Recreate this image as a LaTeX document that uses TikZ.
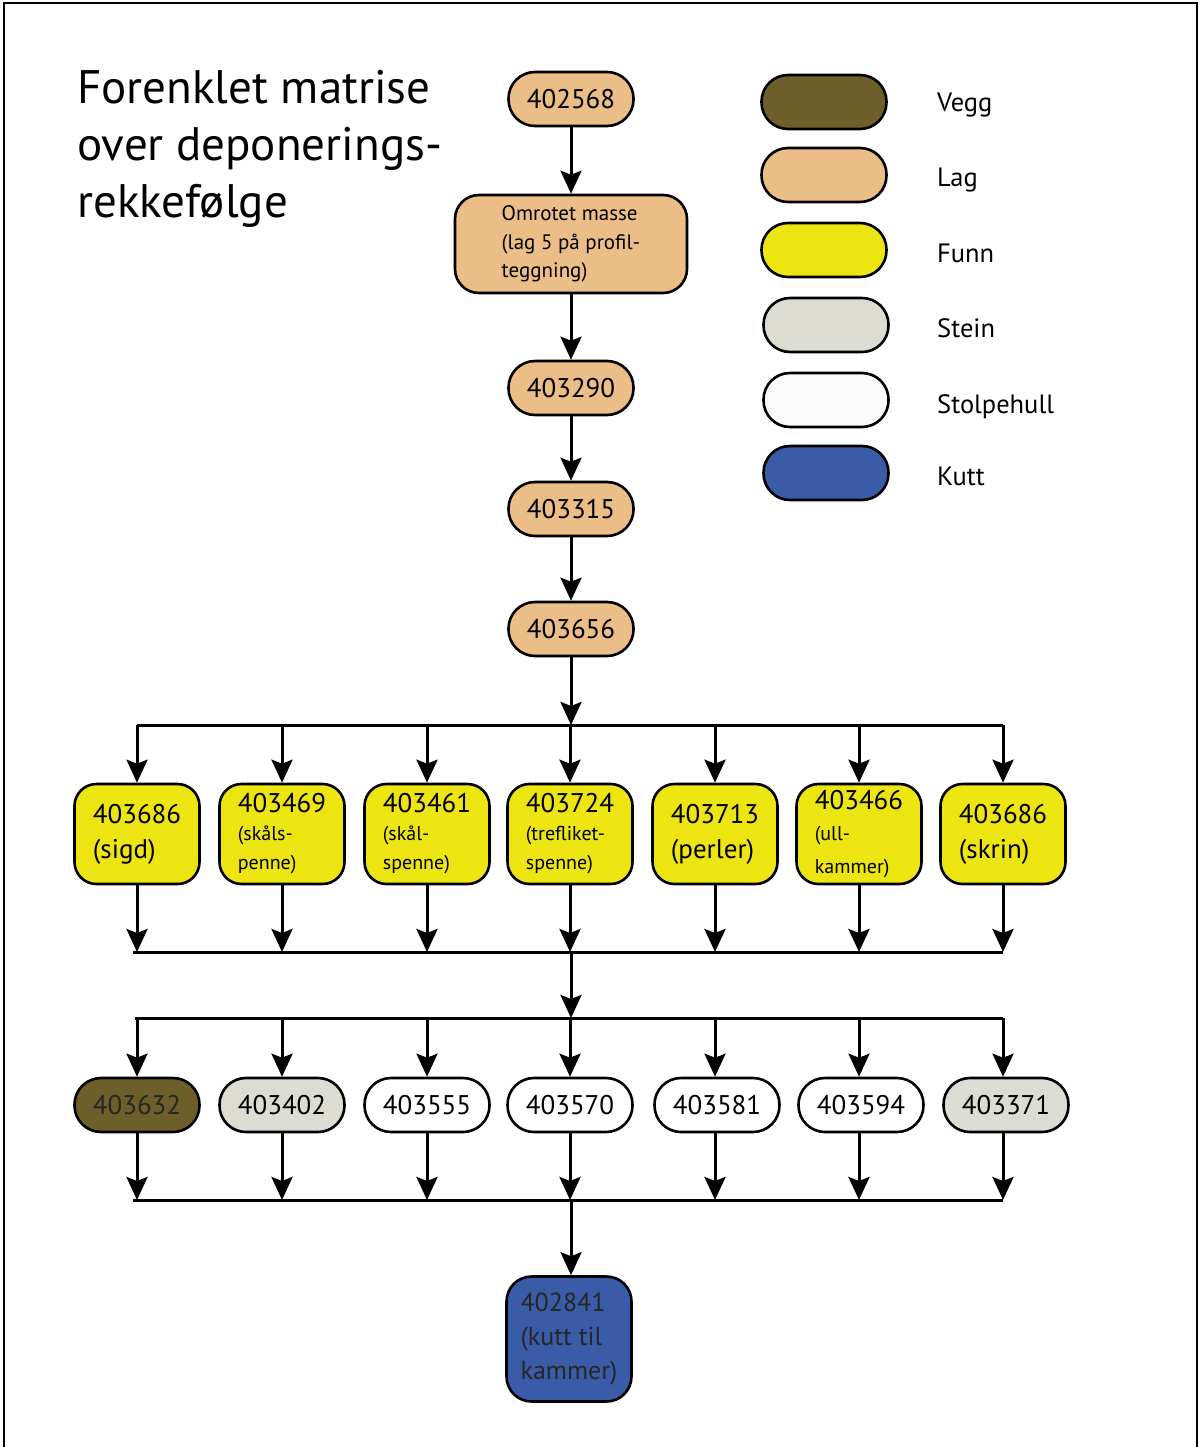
\documentclass[tikz,border=0pt]{standalone}
\usepackage{fontspec}
\setmainfont{PT Sans}
\usetikzlibrary{arrows.meta}
\definecolor{vegg}{HTML}{6E5F2A}
\definecolor{lag}{HTML}{EBBE88}
\definecolor{funn}{HTML}{EDE512}
\definecolor{stein}{HTML}{DCDCD3}
\definecolor{stolpe}{HTML}{FAFAFA}
\definecolor{kutt}{HTML}{3A5BA8}
\newcommand{\smalltxt}[1]{{\fontsize{20}{27}\selectfont #1}}
\begin{document}
\begin{tikzpicture}[x=1pt,y=-1pt,
  arr/.style={line width=3pt,-{Stealth[length=23pt,width=21pt,inset=4pt]}},
  busline/.style={line width=3pt},
  pill/.style={draw,line width=2.6pt,minimum width=125pt,minimum height=54pt,rounded corners=26.5pt,inner sep=0pt,font=\fontsize{27}{30}\selectfont},
  fbox/.style={draw,line width=2.6pt,fill=funn,minimum width=125pt,minimum height=100pt,rounded corners=22pt,inner sep=0pt,align=left,font=\fontsize{27}{35}\selectfont},
  leg/.style={anchor=base west,inner sep=0pt,font=\fontsize{26.5}{30}\selectfont}
]
\useasboundingbox (0,0) rectangle (1201,1447);
\draw[line width=2pt] (4,1447) -- (4,3) -- (1197,3) -- (1197,1447);

% title
\node[anchor=north west,inner sep=0pt,align=left,font=\fontsize{47}{57}\selectfont] (title) at (77,70)
  {Forenklet matrise\\over deponerings-\\rekkefølge};

% top chain
\node[pill,fill=lag] (a) at (571,99) {402568};
\node[draw,line width=2.6pt,fill=lag,minimum width=232pt,minimum height=98pt,rounded corners=24pt,inner sep=0pt,align=left,font=\fontsize{21}{28.5}\selectfont] (b) at (571,244) {Omrotet masse\\(lag 5 på profil-\\teggning)};
\node[pill,fill=lag] (c) at (571,388) {403290};
\node[pill,fill=lag] (d) at (571,509) {403315};
\node[pill,fill=lag] (e) at (571,629) {403656};
\draw[arr] (a) -- (b);
\draw[arr] (b) -- (c);
\draw[arr] (c) -- (d);
\draw[arr] (d) -- (e);

% bus coordinates
\coordinate (bus1) at (571,725);
\coordinate (bus2) at (571,952);
\coordinate (bus3) at (571,1018);
\coordinate (bus4) at (571,1200);

% row of finds
\node[fbox] (f1) at (137,834) {403686\\(sigd)};
\node[fbox] (f2) at (282,834) {403469\\[-7pt]\smalltxt{(skåls-}\\[-6pt]\smalltxt{penne)}};
\node[fbox] (f3) at (427,834) {403461\\[-7pt]\smalltxt{(skål-}\\[-6pt]\smalltxt{spenne)}};
\node[fbox] (f4) at (570,834) {403724\\[-7pt]\smalltxt{(trefliket-}\\[-6pt]\smalltxt{spenne)}};
\node[fbox] (f5) at (715,834) {403713\\(perler)};
\node[fbox] (f6) at (859,834) {403466\\[-4pt]\smalltxt{(ull-}\\[-2pt]\smalltxt{kammer)}};
\node[fbox] (f7) at (1003,834) {403686\\(skrin)};

\draw[arr] (e) -- (e |- bus1);
\draw[busline] (f1 |- bus1) -- (f7 |- bus1);
\foreach \n in {f1,f2,f3,f4,f5,f6,f7}{
  \draw[arr] (\n |- bus1) -- (\n.north);
  \draw[arr] (\n.south) -- (\n |- bus2);
}
\draw[busline] (133,952) -- (f7 |- bus2);
\draw[arr] (bus2) -- (bus3);

% row of features
\node[pill,fill=vegg,text=black!85] (g1) at (137,1105) {403632};
\node[pill,fill=stein] (g2) at (282,1105) {403402};
\node[pill,fill=white] (g3) at (427,1105) {403555};
\node[pill,fill=white] (g4) at (570,1105) {403570};
\node[pill,fill=white] (g5) at (717,1105) {403581};
\node[pill,fill=white] (g6) at (861,1105) {403594};
\node[pill,fill=stein] (g7) at (1006,1105) {403371};
\draw[busline] (135,1018) -- (1003,1018);
\foreach \n/\x in {g1/137,g2/282,g3/427,g4/570,g5/715,g6/859,g7/1003}{
  \coordinate (top\n) at (\x,1018);
  \coordinate (bot\n) at (\x,1200);
  \draw[arr] (top\n) -- (top\n |- \n.north);
  \draw[arr] (top\n |- \n.south) -- (bot\n);
}
\draw[busline] (133,1200) -- (1003,1200);

% cut
\node[draw,line width=2.6pt,fill=kutt,minimum width=125pt,minimum height=125pt,rounded corners=25pt,inner sep=0pt,align=left,text=black!85,font=\fontsize{26}{34}\selectfont] (h) at (569,1339) {402841\\(kutt til\\kammer)};
\draw[arr] (bus4) -- (bus4 |- h.north);

% legend
\node[pill,fill=vegg] (l1) at (824,102) {};
\node[pill,fill=lag] (l2) at (824,175) {};
\node[pill,fill=funn] (l3) at (824,250) {};
\node[pill,fill=stein] (l4) at (826,325) {};
\node[pill,fill=stolpe] (l5) at (826,400) {};
\node[pill,fill=kutt] (l6) at (826,473) {};
\node[leg] (t1) at (937,112) {Vegg};
\node[leg] (t2) at (937,187) {Lag};
\node[leg] (t3) at (937,262) {Funn};
\node[leg] (t4) at (937,337) {Stein};
\node[leg] (t5) at (937,413) {Stolpehull};
\node[leg] (t6) at (937,485) {Kutt};
\end{tikzpicture}
\end{document}
